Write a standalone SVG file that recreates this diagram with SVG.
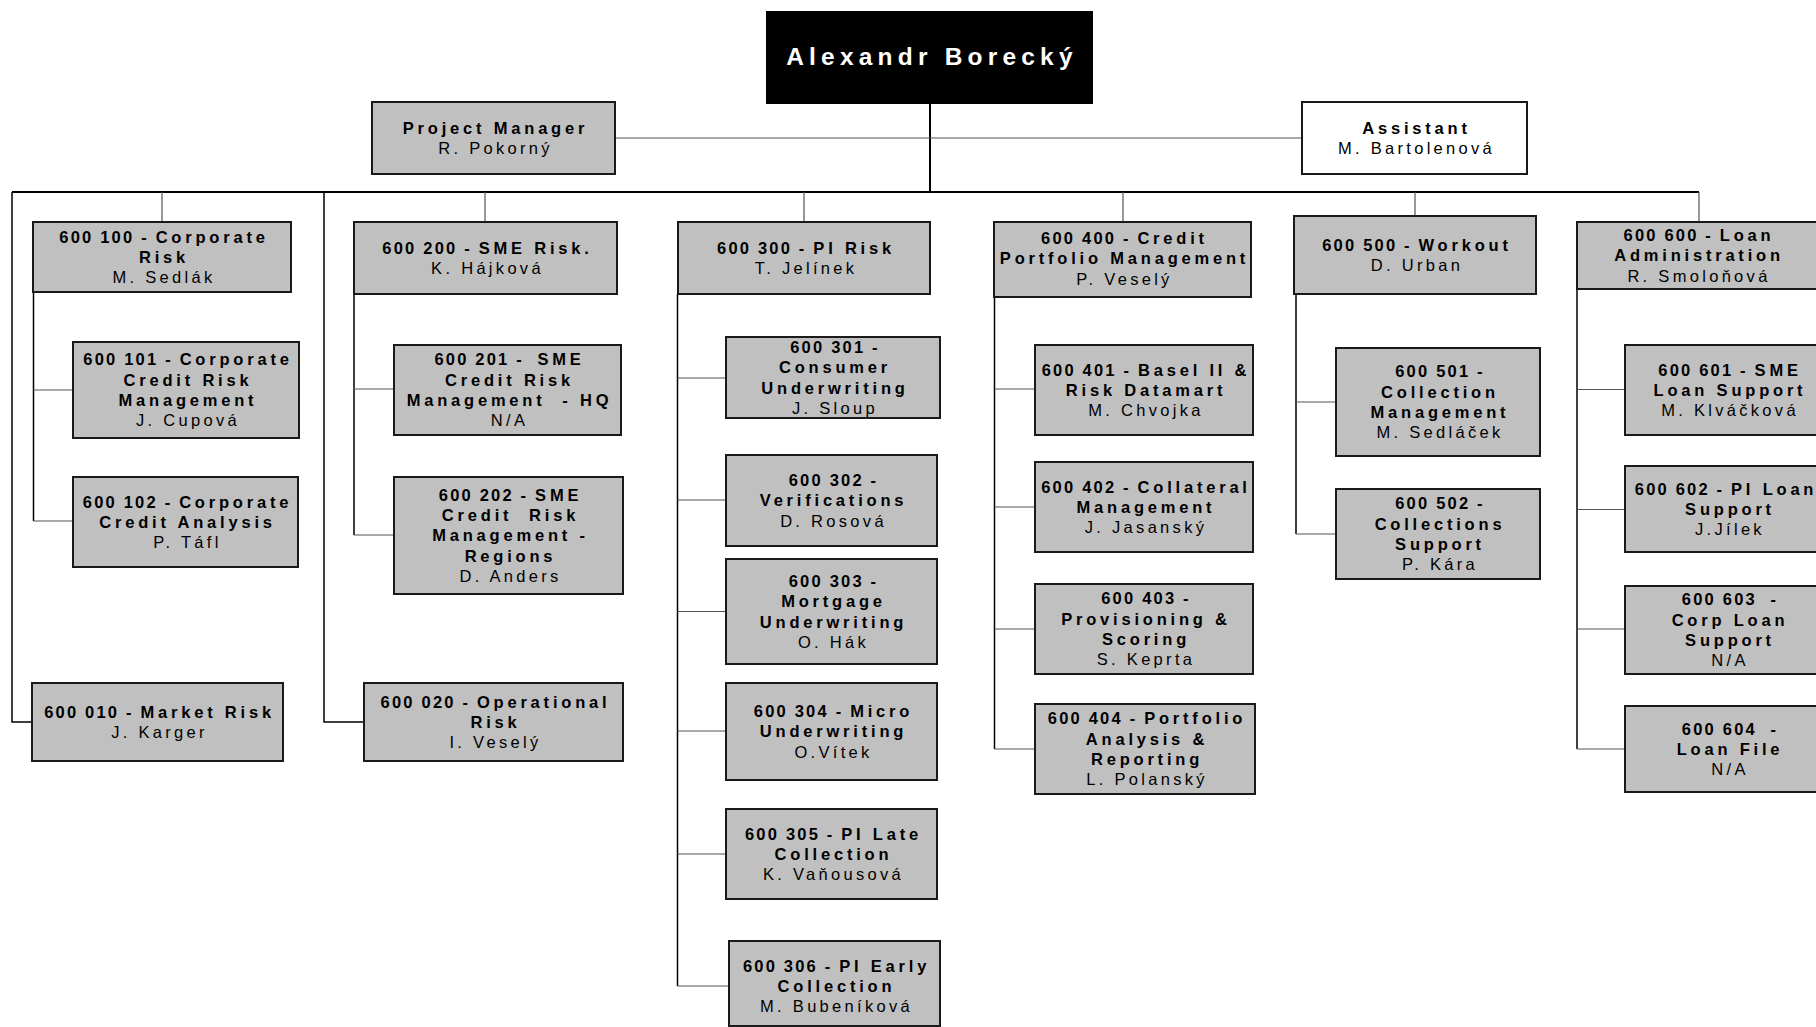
<svg xmlns="http://www.w3.org/2000/svg" width="1816" height="1027" viewBox="0 0 1816 1027">
<style>
.bx{fill:#c0c0c0;stroke:#1a1a1a;stroke-width:2}
.wb{fill:#ffffff;stroke:#1a1a1a;stroke-width:2}
.tx{font-family:"Liberation Sans",Arial,Helvetica,sans-serif;font-size:16.5px;text-anchor:middle;fill:#000;letter-spacing:3.3px}
.b{font-weight:bold;letter-spacing:3.8px}
.c{letter-spacing:2.2px}
.ln{fill:none;stroke:#000;stroke-width:1.5}
.st{fill:none;stroke:#555;stroke-width:1.2}
.bus{fill:none;stroke:#000;stroke-width:2}
</style>
<rect width="1816" height="1027" fill="#fff"/>
<g id="connectors">
<path class="bus" d="M930,103 V192"/>
<path class="st" d="M615,138 H1302"/>
<path class="bus" d="M162,192 H1699"/>
<path class="bus" d="M12,192 H162" stroke="#888"/>
<path class="st" d="M162,192 V222 M485,192 V222 M804,192 V222 M1123,192 V222 M1415,192 V216 M1699,192 V222"/>
<path class="ln" d="M12,192 V722 H32"/>
<path class="ln" d="M33.5,292 V521"/>
<path class="st" d="M33.5,390 H73 M33.5,521 H73"/>
<path class="ln" d="M324,192 V722 H364"/>
<path class="ln" d="M354,294 V535"/>
<path class="st" d="M354,389 H394 M354,535 H394"/>
<path class="ln" d="M677.5,294 V986"/>
<path class="st" d="M677.5,378 H726 M677.5,500 H726 M677.5,611.5 H726 M677.5,731 H726 M677.5,854 H726 M677.5,986 H729"/>
<path class="ln" d="M994.5,297 V749"/>
<path class="st" d="M994.5,389 H1035 M994.5,507 H1035 M994.5,629 H1035 M994.5,749 H1035"/>
<path class="ln" d="M1296,294 V534"/>
<path class="st" d="M1296,402 H1336 M1296,534 H1336"/>
<path class="ln" d="M1577,289 V749"/>
<path class="st" d="M1577,389.5 H1625 M1577,509.5 H1625 M1577,629 H1625 M1577,749 H1625"/>
</g>
<g id="n-director">
<rect x="767" y="12" width="325" height="91" fill="#000" stroke="#000" stroke-width="2"/>
<text x="932" y="65" font-family="'Liberation Sans',Arial,sans-serif" font-size="24.5" font-weight="bold" letter-spacing="5.2" text-anchor="middle" fill="#fff">Alexandr Borecký</text>
</g>
<g id="n-pm">
<rect class="bx" x="372" y="102" width="243" height="72"/>
<text class="tx"><tspan class="b" x="495.5" y="133.6">Project Manager</tspan><tspan x="495.5" y="153.9">R. Pokorný</tspan></text>
</g>
<g id="n-assistant">
<rect class="wb" x="1302" y="102" width="225" height="72"/>
<text class="tx"><tspan class="b" x="1416.5" y="133.6">Assistant</tspan><tspan x="1416.5" y="153.9">M. Bartolenová</tspan></text>
</g>
<g id="n600100">
<rect class="bx" x="33" y="222" width="258" height="70"/>
<text class="tx"><tspan class="b" x="164" y="242.5"><tspan class="c">600 100 - </tspan>Corporate</tspan><tspan class="b" x="164" y="262.8">Risk</tspan><tspan x="164" y="283.1">M. Sedlák</tspan></text>
</g>
<g id="n600101">
<rect class="bx" x="73" y="342" width="226" height="96"/>
<text class="tx"><tspan class="b" x="188" y="365.4"><tspan class="c">600 101 - </tspan>Corporate</tspan><tspan class="b" x="188" y="385.7">Credit Risk</tspan><tspan class="b" x="188" y="406">Management</tspan><tspan x="188" y="426.3">J. Cupová</tspan></text>
</g>
<g id="n600102">
<rect class="bx" x="73" y="477" width="225" height="90"/>
<text class="tx"><tspan class="b" x="187.5" y="507.5"><tspan class="c">600 102 - </tspan>Corporate</tspan><tspan class="b" x="187.5" y="527.8">Credit Analysis</tspan><tspan x="187.5" y="548.1">P. Táfl</tspan></text>
</g>
<g id="n600010">
<rect class="bx" x="32" y="683" width="251" height="78"/>
<text class="tx"><tspan class="b" x="159.5" y="717.6"><tspan class="c">600 010 - </tspan>Market Risk</tspan><tspan x="159.5" y="737.9">J. Karger</tspan></text>
</g>
<g id="n600200">
<rect class="bx" x="354" y="222" width="263" height="72"/>
<text class="tx"><tspan class="b" x="487.5" y="253.6"><tspan class="c">600 200 - </tspan>SME Risk.</tspan><tspan x="487.5" y="273.9">K. Hájková</tspan></text>
</g>
<g id="n600201">
<rect class="bx" x="394" y="345" width="227" height="90"/>
<text class="tx"><tspan class="b" x="509.5" y="365.4"><tspan class="c">600 201 -&#160; </tspan>SME</tspan><tspan class="b" x="509.5" y="385.7">Credit Risk</tspan><tspan class="b" x="509.5" y="406">Management&#160; - HQ</tspan><tspan x="509.5" y="426.3">N/A</tspan></text>
</g>
<g id="n600202">
<rect class="bx" x="394" y="477" width="229" height="117"/>
<text class="tx"><tspan class="b" x="510.5" y="500.7"><tspan class="c">600 202 - </tspan>SME</tspan><tspan class="b" x="510.5" y="521">Credit&#160; Risk</tspan><tspan class="b" x="510.5" y="541.3">Management -</tspan><tspan class="b" x="510.5" y="561.6">Regions</tspan><tspan x="510.5" y="581.9">D. Anders</tspan></text>
</g>
<g id="n600020">
<rect class="bx" x="364" y="683" width="259" height="78"/>
<text class="tx"><tspan class="b" x="495.5" y="707.5"><tspan class="c">600 020 - </tspan>Operational</tspan><tspan class="b" x="495.5" y="727.8">Risk</tspan><tspan x="495.5" y="748.1">I. Veselý</tspan></text>
</g>
<g id="n600300">
<rect class="bx" x="678" y="222" width="252" height="72"/>
<text class="tx"><tspan class="b" x="806" y="253.6"><tspan class="c">600 300 - </tspan>PI Risk</tspan><tspan x="806" y="273.9">T. Jelínek</tspan></text>
</g>
<g id="n600301">
<rect class="bx" x="726" y="337" width="214" height="81"/>
<text class="tx"><tspan class="b" x="835" y="352.9"><tspan class="c">600 301 -</tspan></tspan><tspan class="b" x="835" y="373.2">Consumer</tspan><tspan class="b" x="835" y="393.5">Underwriting</tspan><tspan x="835" y="413.8">J. Sloup</tspan></text>
</g>
<g id="n600302">
<rect class="bx" x="726" y="455" width="211" height="91"/>
<text class="tx"><tspan class="b" x="833.5" y="486"><tspan class="c">600 302 -</tspan></tspan><tspan class="b" x="833.5" y="506.3">Verifications</tspan><tspan x="833.5" y="526.6">D. Rosová</tspan></text>
</g>
<g id="n600303">
<rect class="bx" x="726" y="559" width="211" height="105"/>
<text class="tx"><tspan class="b" x="833.5" y="586.9"><tspan class="c">600 303 -</tspan></tspan><tspan class="b" x="833.5" y="607.2">Mortgage</tspan><tspan class="b" x="833.5" y="627.5">Underwriting</tspan><tspan x="833.5" y="647.8">O. Hák</tspan></text>
</g>
<g id="n600304">
<rect class="bx" x="726" y="683" width="211" height="97"/>
<text class="tx"><tspan class="b" x="833.5" y="717"><tspan class="c">600 304 - </tspan>Micro</tspan><tspan class="b" x="833.5" y="737.3">Underwriting</tspan><tspan x="833.5" y="757.6">O.Vítek</tspan></text>
</g>
<g id="n600305">
<rect class="bx" x="726" y="809" width="211" height="90"/>
<text class="tx"><tspan class="b" x="833.5" y="839.5"><tspan class="c">600 305 - </tspan>PI Late</tspan><tspan class="b" x="833.5" y="859.8">Collection</tspan><tspan x="833.5" y="880.1">K. Vaňousová</tspan></text>
</g>
<g id="n600306">
<rect class="bx" x="729" y="941" width="211" height="85"/>
<text class="tx"><tspan class="b" x="836.5" y="971.7"><tspan class="c">600 306 - </tspan>PI Early</tspan><tspan class="b" x="836.5" y="992">Collection</tspan><tspan x="836.5" y="1012.3">M. Bubeníková</tspan></text>
</g>
<g id="n600400">
<rect class="bx" x="994" y="222" width="257" height="75"/>
<text class="tx"><tspan class="b" x="1124.5" y="244"><tspan class="c">600 400 - </tspan>Credit</tspan><tspan class="b" x="1124.5" y="264.3">Portfolio Management</tspan><tspan x="1124.5" y="284.6">P. Veselý</tspan></text>
</g>
<g id="n600401">
<rect class="bx" x="1035" y="345" width="218" height="90"/>
<text class="tx"><tspan class="b" x="1146" y="375.5"><tspan class="c">600 401 - </tspan>Basel II &amp;</tspan><tspan class="b" x="1146" y="395.8">Risk Datamart</tspan><tspan x="1146" y="416.1">M. Chvojka</tspan></text>
</g>
<g id="n600402">
<rect class="bx" x="1035" y="462" width="218" height="90"/>
<text class="tx"><tspan class="b" x="1146" y="492.5"><tspan class="c">600 402 - </tspan>Collateral</tspan><tspan class="b" x="1146" y="512.8">Management</tspan><tspan x="1146" y="533.1">J. Jasanský</tspan></text>
</g>
<g id="n600403">
<rect class="bx" x="1035" y="584" width="218" height="90"/>
<text class="tx"><tspan class="b" x="1146" y="604.4"><tspan class="c">600 403 -</tspan></tspan><tspan class="b" x="1146" y="624.7">Provisioning &amp;</tspan><tspan class="b" x="1146" y="645">Scoring</tspan><tspan x="1146" y="665.3">S. Keprta</tspan></text>
</g>
<g id="n600404">
<rect class="bx" x="1035" y="704" width="220" height="90"/>
<text class="tx"><tspan class="b" x="1147" y="724.4"><tspan class="c">600 404 - </tspan>Portfolio</tspan><tspan class="b" x="1147" y="744.7">Analysis &amp;</tspan><tspan class="b" x="1147" y="765">Reporting</tspan><tspan x="1147" y="785.3">L. Polanský</tspan></text>
</g>
<g id="n600500">
<rect class="bx" x="1294" y="216" width="242" height="78"/>
<text class="tx"><tspan class="b" x="1417" y="250.6"><tspan class="c">600 500 - </tspan>Workout</tspan><tspan x="1417" y="270.9">D. Urban</tspan></text>
</g>
<g id="n600501">
<rect class="bx" x="1336" y="348" width="204" height="108"/>
<text class="tx"><tspan class="b" x="1440" y="377.4"><tspan class="c">600 501 -</tspan></tspan><tspan class="b" x="1440" y="397.7">Collection</tspan><tspan class="b" x="1440" y="418">Management</tspan><tspan x="1440" y="438.3">M. Sedláček</tspan></text>
</g>
<g id="n600502">
<rect class="bx" x="1336" y="489" width="204" height="90"/>
<text class="tx"><tspan class="b" x="1440" y="509.4"><tspan class="c">600 502 -</tspan></tspan><tspan class="b" x="1440" y="529.7">Collections</tspan><tspan class="b" x="1440" y="550">Support</tspan><tspan x="1440" y="570.3">P. Kára</tspan></text>
</g>
<g id="n600600">
<rect class="bx" x="1577" y="222" width="260" height="67"/>
<text class="tx"><tspan class="b" x="1699" y="241"><tspan class="c">600 600 - </tspan>Loan</tspan><tspan class="b" x="1699" y="261.3">Administration</tspan><tspan x="1699" y="281.6">R. Smoloňová</tspan></text>
</g>
<g id="n600601">
<rect class="bx" x="1625" y="345" width="210" height="90"/>
<text class="tx"><tspan class="b" x="1730" y="375.5"><tspan class="c">600 601 - </tspan>SME</tspan><tspan class="b" x="1730" y="395.8">Loan Support</tspan><tspan x="1730" y="416.1">M. Klváčková</tspan></text>
</g>
<g id="n600602">
<rect class="bx" x="1625" y="466" width="210" height="86"/>
<text class="tx"><tspan class="b" x="1726" y="494.5" letter-spacing="2.6"><tspan class="c" letter-spacing="1.6">600 602 - </tspan>PI Loan</tspan><tspan class="b" x="1730" y="514.8">Support</tspan><tspan x="1730" y="535.1">J.Jílek</tspan></text>
</g>
<g id="n600603">
<rect class="bx" x="1625" y="586" width="210" height="88"/>
<text class="tx"><tspan class="b" x="1730" y="605.4"><tspan class="c">600 603&#160; -</tspan></tspan><tspan class="b" x="1730" y="625.7">Corp Loan</tspan><tspan class="b" x="1730" y="646">Support</tspan><tspan x="1730" y="666.3">N/A</tspan></text>
</g>
<g id="n600604">
<rect class="bx" x="1625" y="706" width="210" height="86"/>
<text class="tx"><tspan class="b" x="1730" y="734.5"><tspan class="c">600 604&#160; -</tspan></tspan><tspan class="b" x="1730" y="754.8">Loan File</tspan><tspan x="1730" y="775.1">N/A</tspan></text>
</g>
</svg>
